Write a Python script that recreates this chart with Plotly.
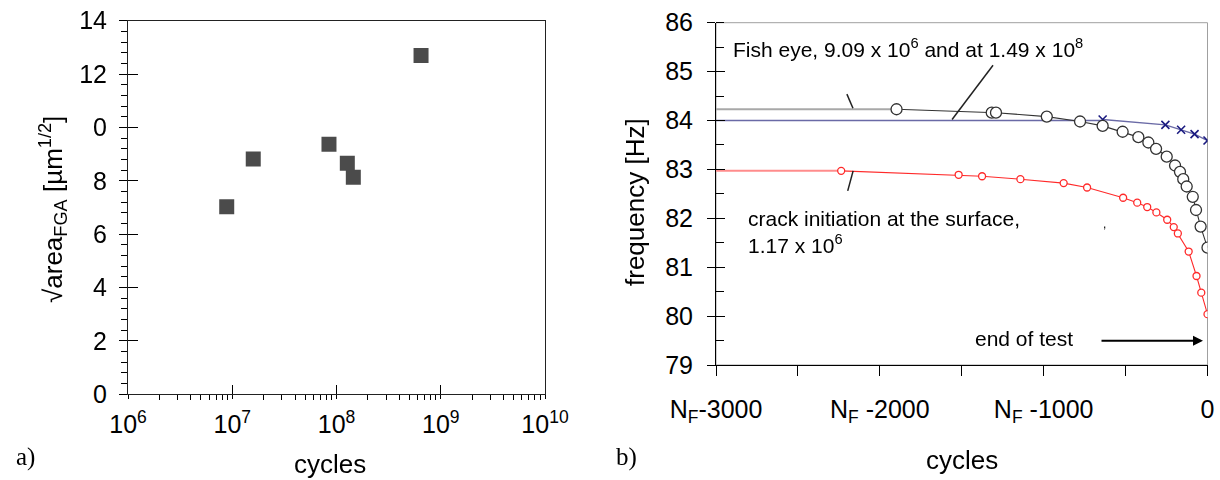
import plotly.graph_objects as go

W, H = 1220, 480

# ---- panel a) data ----
a_cycles = [8.85e6, 1.59e7, 8.47e7, 1.27e8, 1.45e8, 6.47e8]
a_sqrt_area = [7.03, 8.82, 9.37, 8.66, 8.13, 12.70]
a_tickvals = [1e6, 1e7, 1e8, 1e9, 1e10]
a_ticktext = ["10<sup>6</sup>", "10<sup>7</sup>", "10<sup>8</sup>", "10<sup>9</sup>", "10<sup>10</sup>"]
a_ytickvals = [0, 2, 4, 6, 8, 10, 12, 14]
a_yticktext = ["0", "2", "4", "6", "8", "0", "12", "14"]

# ---- panel b) data ----
fish_x = [-1898, -1317, -1291, -981, -778, -640, -518, -422, -361, -314, -249,
          -198, -168, -148, -127, -90, -70, -42, 0]
fish_y = [84.23, 84.16, 84.16, 84.08, 83.98, 83.89, 83.77, 83.66, 83.55, 83.42, 83.26,
          83.08, 82.95, 82.80, 82.65, 82.44, 82.17, 81.83, 81.40]
fish_level = 84.23

blue_x = [-640, -257, -161, -79, 0]
blue_y = [84.02, 83.91, 83.81, 83.72, 83.59]
blue_level = 84.0

surf_x = [-2236, -1519, -1376, -1142, -878, -735, -515, -429, -368, -312, -246,
          -206, -181, -115, -67, -38, 0]
surf_y = [82.97, 82.89, 82.86, 82.80, 82.72, 82.63, 82.42, 82.32, 82.23, 82.12, 81.97,
          81.82, 81.69, 81.32, 80.82, 80.48, 80.04]
surf_level = 82.97

b_tickvals = [-3000, -2500, -2000, -1500, -1000, -500, 0]
b_ticktext = ["N<sub>F</sub>-3000", "", "N<sub>F</sub> -2000", "", "N<sub>F</sub> -1000", "", "0"]
b_start = -3000

SANS = "Arial, Liberation Sans, sans-serif"
SERIF = "Times New Roman, Liberation Serif, serif"

fig = go.Figure()

# panel a
fig.add_trace(go.Scatter(x=a_cycles, y=a_sqrt_area, mode="markers",
                         marker=dict(symbol="square", size=15, color="#4b4b4b"),
                         xaxis="x", yaxis="y", showlegend=False))
# invisible copy on the overlay axes (they carry the inner half of the crossing ticks)
fig.add_trace(go.Scatter(x=a_cycles, y=a_sqrt_area, mode="markers", opacity=0,
                         marker=dict(size=1), hoverinfo="skip",
                         xaxis="x3", yaxis="y3", showlegend=False))

# panel b: extension lines from the axis
fig.add_trace(go.Scatter(x=[b_start, fish_x[0]], y=[fish_level, fish_level], mode="lines",
                         line=dict(color="#a8a8a8", width=2.2), xaxis="x2", yaxis="y2", showlegend=False))
fig.add_trace(go.Scatter(x=[b_start, blue_x[0]], y=[blue_level, blue_level], mode="lines",
                         line=dict(color="#6a6aa6", width=1.6), xaxis="x2", yaxis="y2", showlegend=False))
fig.add_trace(go.Scatter(x=[b_start, surf_x[0]], y=[surf_level, surf_level], mode="lines",
                         line=dict(color="#ff8c8c", width=2), xaxis="x2", yaxis="y2", showlegend=False))

# blue series
fig.add_trace(go.Scatter(x=blue_x, y=blue_y, mode="lines+markers",
                         line=dict(color="#6a6aa6", width=1.3),
                         marker=dict(symbol="x-thin", size=8, line=dict(color="#1a1a80", width=1.6)),
                         xaxis="x2", yaxis="y2", showlegend=False))
# fish-eye series
fig.add_trace(go.Scatter(x=fish_x, y=fish_y, mode="lines+markers",
                         line=dict(color="#333333", width=1.1),
                         marker=dict(symbol="circle", size=11, color="white",
                                     line=dict(color="#333333", width=1.3)),
                         xaxis="x2", yaxis="y2", showlegend=False))
# surface series
fig.add_trace(go.Scatter(x=surf_x, y=surf_y, mode="lines+markers",
                         line=dict(color="#ff2a2a", width=1.1),
                         marker=dict(symbol="circle", size=7, color="white",
                                     line=dict(color="#ff2a2a", width=1.3)),
                         xaxis="x2", yaxis="y2", showlegend=False))
fig.add_trace(go.Scatter(x=surf_x, y=surf_y, mode="markers", opacity=0,
                         marker=dict(size=1), hoverinfo="skip",
                         xaxis="x2", yaxis="y4", showlegend=False))

tickfont = dict(family=SANS, size=25, color="black")

fig.update_layout(
    width=W, height=H, margin=dict(l=0, r=0, t=0, b=0, autoexpand=False),
    paper_bgcolor="white", plot_bgcolor="white",
    xaxis=dict(domain=[128 / W, 545 / W], anchor="y", type="log", range=[6, 10], automargin=False,
               tickmode="array", tickvals=a_tickvals, ticktext=a_ticktext,
               ticks="outside", ticklen=4, tickwidth=1, tickcolor="black",
               showline=True, linecolor="#222222", linewidth=1, mirror=True,
               showgrid=False, zeroline=False, tickfont=tickfont, ticklabelstandoff=4,
               minor=dict(ticks="outside", ticklen=5, tickcolor="black", tickmode="array",
                          tickvals=[m * 10 ** e for e in range(6, 10) for m in range(2, 10)])),
    xaxis3=dict(overlaying="x", anchor="y", type="log", range=[6, 10], automargin=False,
                tickmode="array", tickvals=a_tickvals, ticks="inside", ticklen=9,
                tickcolor="black", showticklabels=False, showline=False,
                showgrid=False, zeroline=False),
    yaxis=dict(domain=[1 - 394.3 / H, 1 - 20.7 / H], anchor="x", range=[0, 14], automargin=False,
               tickmode="array", tickvals=a_ytickvals, ticktext=a_yticktext,
               ticks="outside", ticklen=8, tickcolor="black",
               showline=True, linecolor="#222222", linewidth=1, mirror=True,
               showgrid=False, zeroline=False, tickfont=tickfont, ticklabelstandoff=7,
               minor=dict(ticks="outside", ticklen=6, tickcolor="black", dtick=0.4, tick0=0)),
    yaxis3=dict(overlaying="y", anchor="x", range=[0, 14], automargin=False,
                tickmode="array", tickvals=a_ytickvals, ticks="inside", ticklen=10,
                tickcolor="black", showticklabels=False, showline=False,
                showgrid=False, zeroline=False),
    xaxis2=dict(domain=[716 / W, 1207.5 / W], anchor="y2", range=[-3000, 0], automargin=False,
                tickmode="array", tickvals=b_tickvals, ticktext=b_ticktext,
                ticks="outside", ticklen=10, tickcolor="black",
                showline=True, linecolor="black", linewidth=1,
                showgrid=False, zeroline=False, tickfont=tickfont, ticklabelstandoff=12),
    yaxis2=dict(domain=[1 - 365 / H, 1 - 22.7 / H], anchor="x2", range=[79, 86], automargin=False,
                tickmode="linear", tick0=79, dtick=1,
                ticks="outside", ticklen=8, tickcolor="black",
                showline=True, linecolor="black", linewidth=1,
                showgrid=False, zeroline=False, tickfont=tickfont, ticklabelstandoff=9,
                minor=dict(ticks="inside", ticklen=8, tickcolor="black", dtick=0.5, tick0=79)),
    yaxis4=dict(overlaying="y2", anchor="x2", range=[79, 86], automargin=False,
                tickmode="linear", tick0=79, dtick=1, ticks="inside", ticklen=9,
                tickcolor="black", showticklabels=False, showline=False,
                showgrid=False, zeroline=False),
)

# frame of panel b (gray top/right)
fig.add_shape(type="rect", xref="x2 domain", yref="y2 domain", x0=0, x1=1, y0=0, y1=1,
              line=dict(color="#a0a0a0", width=1), layer="below")

# leader lines
leader = dict(color="#222222", width=1.5)
fig.add_shape(type="line", xref="x2", yref="y2", x0=-2201, y0=84.54, x1=-2164, y1=84.25, line=leader)
fig.add_shape(type="line", xref="x2", yref="y2", x0=-1309, y0=85.13, x1=-1559, y1=84.02, line=leader)
fig.add_shape(type="line", xref="x2", yref="y2", x0=-2163, y0=82.97, x1=-2196, y1=82.56, line=leader)

ann = []
def txt(x, y, text, size=21, family=SANS, xanchor="center", yanchor="middle", angle=0):
    ann.append(dict(x=x / W, y=1 - y / H, xref="paper", yref="paper", text=text, showarrow=False,
                    font=dict(family=family, size=size, color="black"),
                    xanchor=xanchor, yanchor=yanchor, textangle=angle, align="left"))

txt(330, 464, "cycles", size=26)
txt(962, 460, "cycles", size=26)
txt(53, 210, "√area<sub>FGA</sub> [µm<sup>1/2</sup>]", size=26, angle=-90)
txt(635, 202, "frequency [Hz]", size=26, angle=-90)
txt(14, 457, "a)", size=25, family=SERIF, xanchor="left")
txt(614, 457, "b)", size=25, family=SERIF, xanchor="left")
txt(731, 48, "Fish eye, 9.09 x 10<sup>6</sup> and at 1.49 x 10<sup>8</sup>", xanchor="left")
txt(746, 232, "crack initiation at the surface,<br>1.17 x 10<sup>6</sup>", xanchor="left")
txt(1024, 338, "end of test")
txt(1104, 224, ",", size=12)

ann.append(dict(x=1203 / W, y=1 - 340.7 / H, xref="paper", yref="paper", text="",
                showarrow=True, ax=-103, ay=0, axref="pixel", ayref="pixel",
                arrowhead=2, arrowsize=1, arrowwidth=2, arrowcolor="black"))

fig.update_layout(annotations=ann)
fig.write_html("out.html", config={"displayModeBar": False},
               post_script="document.body.style.margin='0';document.body.style.overflow='hidden';")
